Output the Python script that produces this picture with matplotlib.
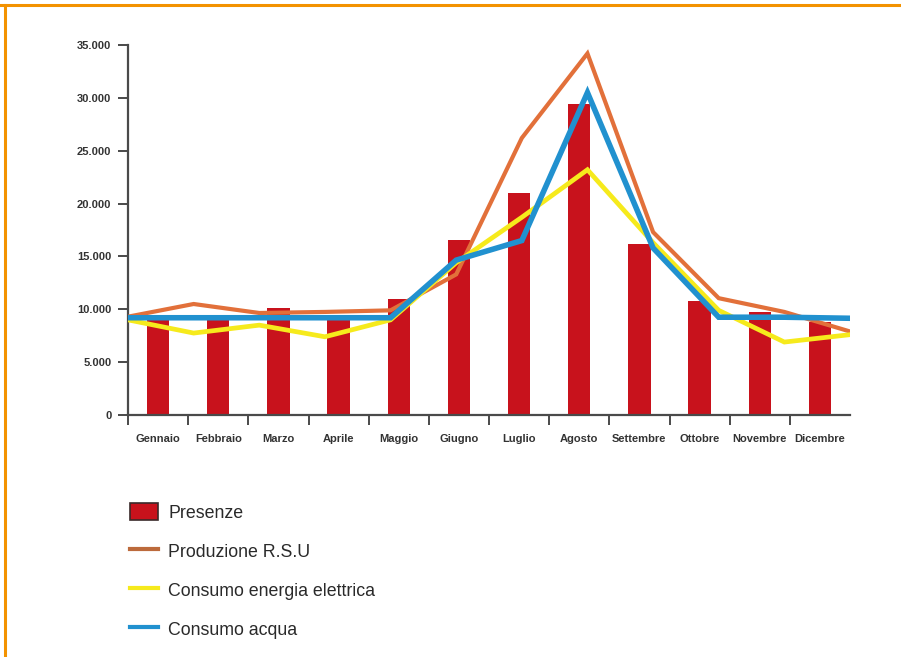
import matplotlib
matplotlib.use("Agg")
import matplotlib.pyplot as plt
from matplotlib.lines import Line2D
from matplotlib.patches import Patch
from matplotlib.ticker import FuncFormatter
import numpy as np

plt.rcParams['font.family'] = ['Liberation Sans', 'DejaVu Sans']

mesi = ['Gennaio', 'Febbraio', 'Marzo', 'Aprile', 'Maggio', 'Giugno',
        'Luglio', 'Agosto', 'Settembre', 'Ottobre', 'Novembre', 'Dicembre']

presenze = [9000, 9000, 10100, 9200, 11000, 16550,
            21000, 29400, 16200, 10800, 9750, 8800]
produzione_rsu = [9300, 10500, 9650, 9750, 9900, 13300,
                  26200, 34200, 17300, 11050, 9750, 7900]
energia_elettrica = [9000, 7750, 8500, 7400, 9000, 14400,
                     18700, 23200, 16300, 9900, 6900, 7600]
consumo_acqua = [9200, 9200, 9200, 9200, 9200, 14650,
                 16500, 30500, 15800, 9250, 9250, 9150]

c_bar = '#C8121C'
c_rsu = '#E2703A'
c_ene = '#F6EA1C'
c_acq = '#2191CF'
c_axis = '#4a4a4a'

W, H = 901, 657
fig = plt.figure(figsize=(W / 100, H / 100), dpi=100)
ax = fig.add_axes([128 / W, 1 - 415 / H, 722 / W, 370 / H])

x = np.arange(len(mesi))
ax.bar(x, presenze, width=0.37, color=c_bar, zorder=2)
ax.set_xlim(-0.5, len(mesi) - 0.5)
ax.set_ylim(0, 35000)

# lines span the whole axis width (first point on the y axis, last at the right end)
ax2 = ax.twiny()
ax2.set_xlim(0, len(mesi) - 1)
xl = np.arange(len(mesi))
ax2.plot(xl, produzione_rsu, color=c_rsu, lw=3.0, solid_joinstyle='miter', zorder=3)
ax2.plot(xl, energia_elettrica, color=c_ene, lw=3.4, solid_joinstyle='miter', zorder=4)
ax2.plot(xl, consumo_acqua, color=c_acq, lw=4.0, solid_joinstyle='miter', zorder=5)
ax2.set_xticks([])
for s in ax2.spines.values():
    s.set_visible(False)

# axes styling
for s in ['top', 'right']:
    ax.spines[s].set_visible(False)
for s in ['left', 'bottom']:
    ax.spines[s].set_color(c_axis)
    ax.spines[s].set_linewidth(1.6)

ax.set_yticks(np.arange(0, 35001, 5000))
ax.yaxis.set_major_formatter(FuncFormatter(lambda v, p: f"{int(v):,}".replace(',', '.')))
ax.tick_params(axis='y', length=7, width=1.4, color=c_axis, pad=5,
               labelsize=8)
for t in ax.get_yticklabels():
    t.set_fontweight('bold')
    t.set_color('#333333')

ax.set_xticks(np.arange(-0.5, len(mesi) - 0.5, 1.0))
ax.set_xticklabels([])
ax.tick_params(axis='x', which='major', length=7, width=1.4, color=c_axis)
ax.set_xticks(x, minor=True)
ax.set_xticklabels(mesi, minor=True, fontsize=8, fontweight='bold', color='#333333')
ax.tick_params(axis='x', which='minor', length=0, pad=14)

# legend
handles = [
    Patch(facecolor=c_bar, edgecolor='#3a2a2a', linewidth=1.2),
    Line2D([], [], color='#BC6A3C', lw=3.0),
    Line2D([], [], color=c_ene, lw=3.0),
    Line2D([], [], color=c_acq, lw=3.0),
]
labels = ['Presenze', 'Produzione R.S.U', 'Consumo energia elettrica', 'Consumo acqua']
fig.legend(handles, labels, loc='upper left', bbox_to_anchor=(130 / W, 1 - 503 / H),
           frameon=False, fontsize=12.8, borderpad=0, borderaxespad=0,
           handlelength=1.55, handleheight=1.1, handletextpad=0.6,
           labelspacing=1.15, labelcolor='#2a2a2a')

# orange frame (top and left only)
fig.add_artist(Line2D([0, 1], [1 - 5 / H, 1 - 5 / H], transform=fig.transFigure,
                      color='#F39200', lw=2.2))
fig.add_artist(Line2D([4.5 / W, 4.5 / W], [0, 1 - 5 / H], transform=fig.transFigure,
                      color='#F39200', lw=2.2))

fig.savefig('out.png', dpi=100)
